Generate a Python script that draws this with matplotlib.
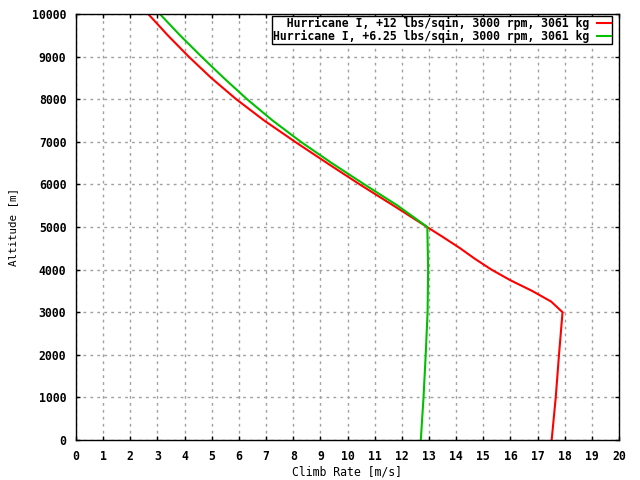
import matplotlib
matplotlib.use('Agg')
import matplotlib.pyplot as plt

# Hurricane I, +12 lbs/sqin
alt_12 = [0, 1000, 2000, 3000, 3250, 3500, 3750, 4000, 4250, 4500, 4750, 5000,
          5500, 6000, 6500, 7000, 7500, 8000, 8500, 9000, 9500, 10000]
climb_12 = [17.52, 17.67, 17.79, 17.92, 17.5, 16.8, 16.0, 15.3, 14.7, 14.15, 13.55, 12.93,
            11.7, 10.45, 9.25, 8.07, 6.93, 5.9, 4.98, 4.15, 3.38, 2.66]

# Hurricane I, +6.25 lbs/sqin
alt_625 = [0, 1000, 2000, 3000, 4000, 5000,
           5500, 6000, 6500, 7000, 7500, 8000, 8500, 9000, 9500, 10000]
climb_625 = [12.70, 12.80, 12.88, 12.95, 12.97, 12.94,
             11.85, 10.62, 9.42, 8.28, 7.24, 6.3, 5.44, 4.62, 3.83, 3.09]

label_12 = '  Hurricane I, +12 lbs/sqin, 3000 rpm, 3061 kg'
label_625 = 'Hurricane I, +6.25 lbs/sqin, 3000 rpm, 3061 kg'

plt.rcParams['font.family'] = 'DejaVu Sans Mono'
plt.rcParams['font.weight'] = 'bold'
plt.rcParams['font.size'] = 8.3

fig = plt.figure(figsize=(6.4, 4.8), dpi=100)
ax = fig.add_axes([76 / 640, 40 / 480, 543 / 640, 426 / 480])

ax.plot(climb_12, alt_12, color='#ff0000', lw=1.5, label=label_12)
ax.plot(climb_625, alt_625, color='#00c000', lw=1.5, label=label_625)

ax.set_xlim(0, 20)
ax.set_ylim(0, 10000)
ax.set_xticks(range(0, 21))
ax.set_yticks(range(0, 10001, 1000))
ax.tick_params(direction='in', top=True, right=True, length=3, width=1, pad=7)
ax.grid(True, color='#a0a0a0', linestyle=(0, (2, 3)), linewidth=1)
for s in ax.spines.values():
    s.set_linewidth(1)

ax.set_xlabel('Climb Rate [m/s]', labelpad=2)
ax.set_ylabel('Altitude [m]', labelpad=10, fontsize=7.8)

leg = ax.legend(loc='upper right', bbox_to_anchor=(612 / 640, 1 - 16 / 480),
                bbox_transform=fig.transFigure, borderaxespad=0,
                markerfirst=False, fancybox=False, framealpha=1,
                edgecolor='black', handlelength=1.2, handletextpad=0.7,
                borderpad=0.1, labelspacing=0.0)
leg.get_frame().set_linewidth(1)

fig.savefig('out.png', dpi=100)
